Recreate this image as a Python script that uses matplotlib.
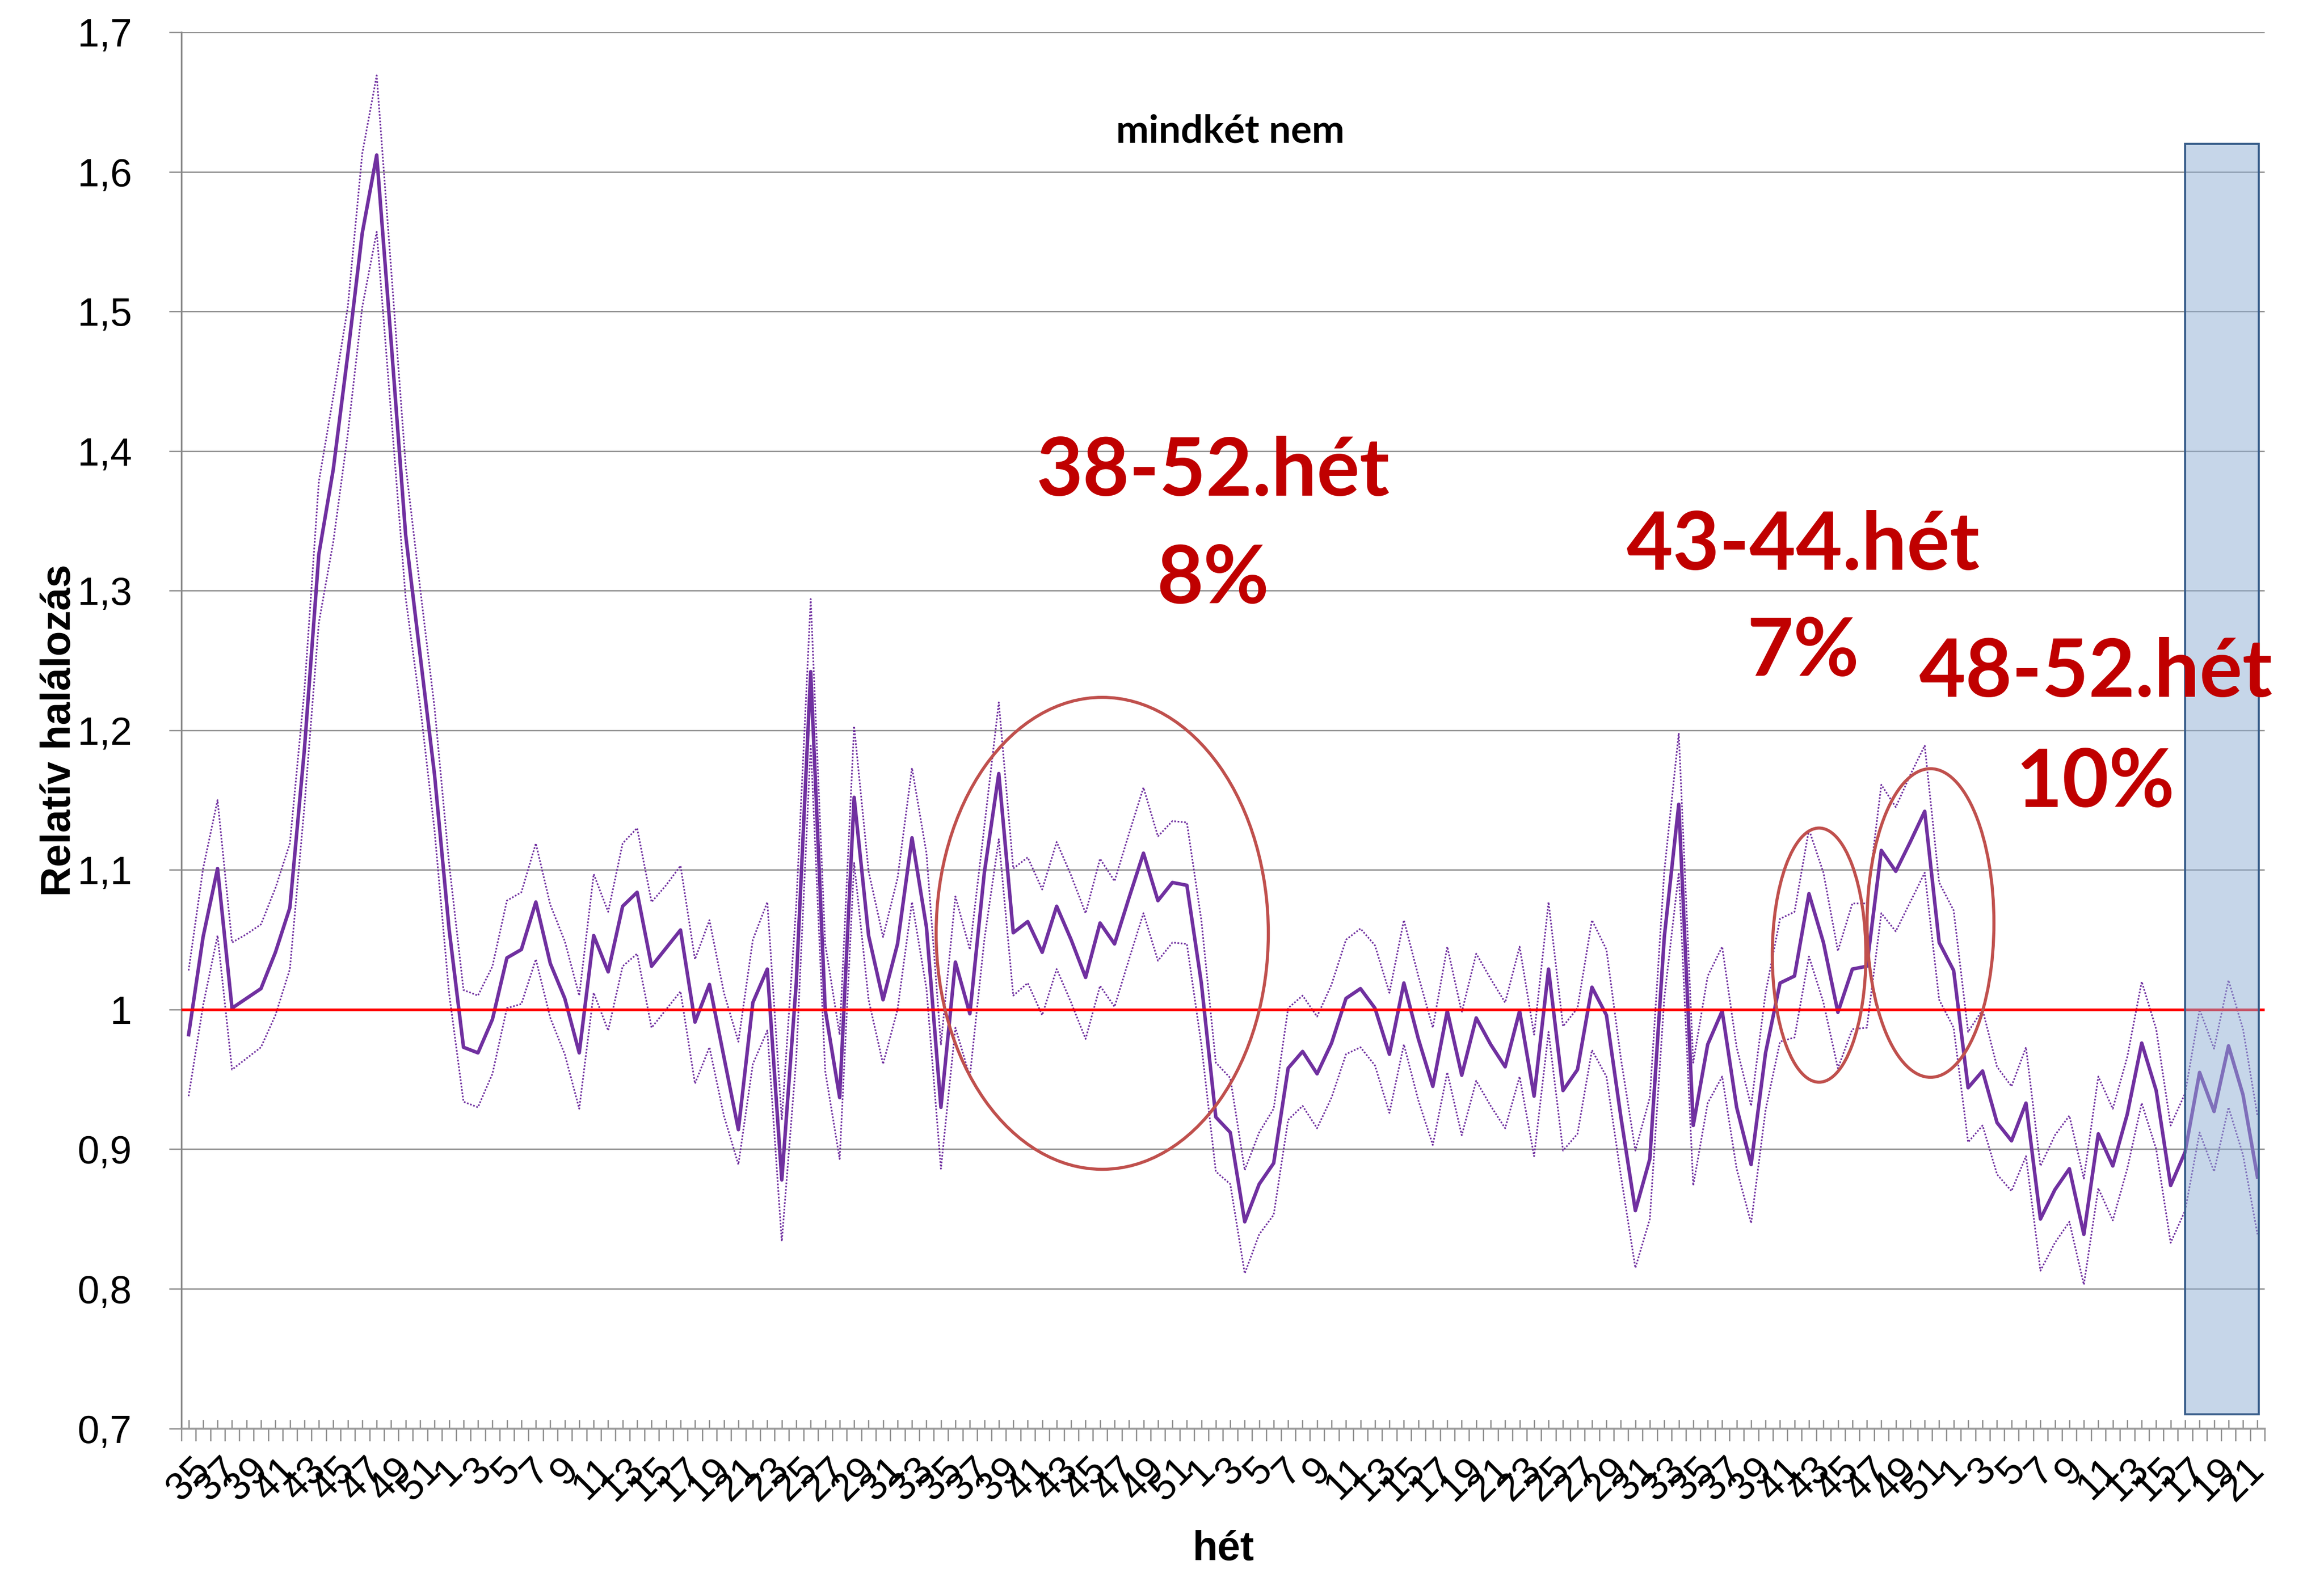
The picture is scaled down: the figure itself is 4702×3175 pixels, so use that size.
import matplotlib
matplotlib.use('Agg')
import matplotlib.pyplot as plt
from matplotlib.patches import Ellipse
from matplotlib.transforms import ScaledTranslation
import numpy as np

# week labels: 35..52, then two full years, then 1..22
weeks = list(range(35, 53)) + list(range(1, 53)) + list(range(1, 53)) + list(range(1, 23))

rel = [0.982, 1.052, 1.101, 1.001, 1.008, 1.015, 1.041, 1.073, 1.186, 1.326, 1.387, 1.469,
       1.556, 1.612, 1.478, 1.340, 1.254, 1.168, 1.058, 0.973, 0.969, 0.993, 1.037, 1.043,
       1.077, 1.033, 1.008, 0.969, 1.053, 1.027, 1.074, 1.084, 1.031, 1.044, 1.057, 0.991,
       1.018, 0.966, 0.914, 1.005, 1.029, 0.878, 1.019, 1.242, 1.000, 0.937, 1.152, 1.053,
       1.007, 1.047, 1.123, 1.059, 0.930, 1.034, 0.997, 1.098, 1.169, 1.055, 1.063, 1.041,
       1.074, 1.050, 1.023, 1.062, 1.047, 1.080, 1.112, 1.078, 1.091, 1.089, 1.019, 0.923,
       0.912, 0.848, 0.875, 0.890, 0.958, 0.970, 0.954, 0.976, 1.008, 1.015, 1.001, 0.968,
       1.019, 0.979, 0.945, 0.999, 0.953, 0.994, 0.975, 0.959, 0.999, 0.938, 1.029, 0.942,
       0.957, 1.016, 0.996, 0.923, 0.856, 0.893, 1.052, 1.147, 0.917, 0.975, 0.999, 0.930,
       0.889, 0.969, 1.019, 1.024, 1.083, 1.048, 0.998, 1.029, 1.031, 1.114, 1.099, 1.120,
       1.142, 1.048, 1.028, 0.944, 0.956, 0.919, 0.906, 0.933, 0.850, 0.871, 0.886, 0.839,
       0.911, 0.888, 0.925, 0.976, 0.942, 0.874, 0.898, 0.955, 0.927, 0.974, 0.939, 0.880]

upper = [1.028, 1.101, 1.150, 1.048, 1.054, 1.061, 1.087, 1.119, 1.228, 1.378, 1.439, 1.503,
         1.613, 1.669, 1.530, 1.390, 1.302, 1.216, 1.105, 1.014, 1.010, 1.031, 1.078, 1.084,
         1.119, 1.075, 1.049, 1.010, 1.097, 1.070, 1.119, 1.130, 1.077, 1.089, 1.103, 1.036,
         1.064, 1.012, 0.977, 1.050, 1.077, 0.921, 1.075, 1.294, 1.047, 0.982, 1.203, 1.099,
         1.052, 1.094, 1.173, 1.112, 0.975, 1.081, 1.043, 1.131, 1.220, 1.101, 1.109, 1.086,
         1.120, 1.096, 1.069, 1.108, 1.092, 1.126, 1.159, 1.124, 1.135, 1.134, 1.064, 0.962,
         0.951, 0.885, 0.912, 0.929, 1.001, 1.010, 0.995, 1.018, 1.050, 1.058, 1.046, 1.012,
         1.064, 1.024, 0.987, 1.045, 0.998, 1.040, 1.022, 1.005, 1.045, 0.982, 1.077, 0.988,
         1.001, 1.064, 1.043, 0.965, 0.899, 0.937, 1.099, 1.198, 0.962, 1.024, 1.045, 0.973,
         0.931, 1.012, 1.065, 1.070, 1.129, 1.098, 1.042, 1.076, 1.076, 1.161, 1.145, 1.168,
         1.189, 1.091, 1.071, 0.984, 1.000, 0.959, 0.945, 0.973, 0.888, 0.910, 0.924, 0.879,
         0.952, 0.929, 0.966, 1.020, 0.986, 0.917, 0.940, 1.000, 0.972, 1.021, 0.986, 0.924]

lower = [0.938, 1.003, 1.053, 0.957, 0.965, 0.973, 0.996, 1.029, 1.145, 1.277, 1.335, 1.412,
         1.503, 1.557, 1.426, 1.295, 1.218, 1.128, 1.012, 0.934, 0.930, 0.954, 1.001, 1.004,
         1.036, 0.994, 0.968, 0.929, 1.012, 0.985, 1.031, 1.040, 0.987, 1.000, 1.013, 0.947,
         0.973, 0.924, 0.889, 0.961, 0.985, 0.834, 0.965, 1.190, 0.956, 0.893, 1.105, 1.007,
         0.961, 1.000, 1.077, 1.015, 0.886, 0.987, 0.952, 1.050, 1.122, 1.010, 1.019, 0.996,
         1.029, 1.005, 0.979, 1.017, 1.002, 1.036, 1.069, 1.035, 1.048, 1.047, 0.975, 0.884,
         0.875, 0.811, 0.839, 0.853, 0.921, 0.931, 0.915, 0.937, 0.968, 0.973, 0.960, 0.926,
         0.975, 0.935, 0.903, 0.955, 0.910, 0.949, 0.931, 0.915, 0.952, 0.895, 0.984, 0.899,
         0.911, 0.971, 0.952, 0.881, 0.815, 0.850, 1.008, 1.098, 0.874, 0.933, 0.952, 0.886,
         0.847, 0.928, 0.977, 0.980, 1.038, 1.005, 0.958, 0.986, 0.987, 1.069, 1.056, 1.077,
         1.098, 1.007, 0.987, 0.905, 0.917, 0.882, 0.870, 0.895, 0.813, 0.833, 0.848, 0.803,
         0.872, 0.849, 0.886, 0.933, 0.900, 0.833, 0.856, 0.912, 0.884, 0.930, 0.896, 0.839]

yticks = [0.7, 0.8, 0.9, 1.0, 1.1, 1.2, 1.3, 1.4, 1.5, 1.6, 1.7]
ytick_labels = ['0,7', '0,8', '0,9', '1', '1,1', '1,2', '1,3', '1,4', '1,5', '1,6', '1,7']

# highlighted periods: (x centre, y centre, width in weeks, height)
ellipses = [(63.15, 1.0546, 22.96, 0.338),
            (112.7, 1.039, 6.47, 0.182),
            (120.4, 1.062, 8.77, 0.221)]

# annotation texts: (x, baseline of first line, first line, second line, baseline of second line)
notes = [(70.8, 1.368, '38-52.hét', '8%', 1.291),
         (111.6, 1.315, '43-44.hét', '7%', 1.239),
         (131.8, 1.224, '48-52.hét', '10%', 1.145)]

# shaded block at the end (incomplete data)
shade_x0, shade_x1 = 138.0, 143.1
shade_low, shade_high = 0.71, 1.62

purple = '#7030A0'
grey = '#878787'

fig = plt.figure(figsize=(4702 / 300, 3175 / 300), dpi=300)
ax = fig.add_axes([0.07805, 0.08957, 0.89643, 0.88995])

x = np.arange(len(rel))

ax.plot(x, upper, color=purple, lw=0.8, ls=(0, (1, 1)), zorder=3)
ax.plot(x, lower, color=purple, lw=0.8, ls=(0, (1, 1)), zorder=3)
ax.plot(x, rel, color=purple, lw=1.7, zorder=4, solid_joinstyle='round')
ax.axhline(1.0, color='#FF0000', lw=1.3, zorder=5)

for cx, cy, w, h in ellipses:
    ax.add_patch(Ellipse((cx, cy), w, h, fill=False, edgecolor='#C0504D', lw=1.5, zorder=6))

ax.bar(shade_x0, shade_high - shade_low, width=shade_x1 - shade_x0, bottom=shade_low,
       align='edge', color=(0.561, 0.686, 0.835, 0.5), edgecolor='#385D8A', lw=1.0, zorder=7)

for nx, ny, t1, t2, ny2 in notes:
    ax.text(nx, ny, t1, ha='center', va='baseline', color='#C00000', fontsize=39,
            fontweight='bold', family='Lato', zorder=8)
    ax.text(nx, ny2, t2, ha='center', va='baseline', color='#C00000', fontsize=39,
            fontweight='bold', family='Lato', zorder=8)

ax.text(72.0, 1.621, 'mindkét nem', ha='center', va='baseline', fontsize=19,
        fontweight='bold', family='Lato')

ax.set_xlim(-0.5, len(rel) - 0.5)
ax.set_ylim(0.7, 1.7)

ax.set_yticks(yticks)
ax.set_yticklabels(ytick_labels, family='Liberation Sans', fontsize=19)
ax.yaxis.grid(True, color=grey, lw=0.6)
ax.set_axisbelow(True)
ax.tick_params(axis='y', direction='out', length=6, width=0.6, color=grey, pad=18)

ax.set_xticks(x)
ax.set_xticklabels([str(w) if i % 2 == 0 else '' for i, w in enumerate(weeks)],
                   family='Liberation Sans', fontsize=19, rotation=45, ha='center')
shift = ScaledTranslation(5 / 72, 0, fig.dpi_scale_trans)
for lab in ax.get_xticklabels():
    lab.set_transform(lab.get_transform() + shift)
ax.set_xticks(np.arange(-0.5, len(rel), 1), minor=True)
ax.tick_params(axis='x', which='major', direction='in', length=4.3, width=0.6, color=grey, pad=11)
ax.tick_params(axis='x', which='minor', direction='out', length=6, width=0.6, color=grey)

for s in ['top', 'right']:
    ax.spines[s].set_visible(False)
ax.spines['left'].set_color(grey)
ax.spines['left'].set_linewidth(0.8)
ax.spines['bottom'].set_color('#999999')
ax.spines['bottom'].set_linewidth(1.0)

ax.set_ylabel('Relatív halálozás', family='Liberation Sans', fontsize=20, fontweight='bold')
ax.yaxis.set_label_coords(-0.0586, 0.5)
ax.yaxis.label.set_va('center')
ax.set_xlabel('hét', family='Liberation Sans', fontsize=20, fontweight='bold')
ax.xaxis.set_label_coords(0.5, -0.0865)
ax.xaxis.label.set_va('center')

fig.savefig('out.png', dpi=300)
